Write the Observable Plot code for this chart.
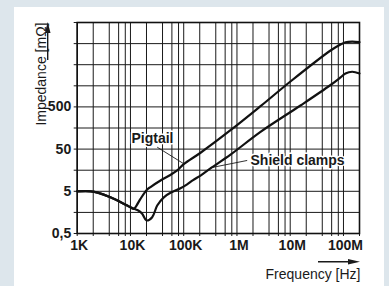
<!DOCTYPE html>
<html><head><meta charset="utf-8">
<script src="https://cdn.jsdelivr.net/npm/d3@7"></script>
<script src="https://cdn.jsdelivr.net/npm/@observablehq/plot@0.6"></script>
<style>
html,body{margin:0;padding:0;background:#dde6ec;}
#wrap{position:relative;width:389px;height:286px;overflow:hidden;}
#panel{position:absolute;left:14px;top:7px;width:370px;height:279px;background:#fff;}
#chart{position:absolute;left:0;top:0;}
svg{display:block}
</style></head><body>
<div id="wrap"><div id="panel"></div><div id="chart"></div></div>
<script>
// Pigtail curve (frequency in Hz, impedance in mΩ)
const pigtailFreq = [1000, 1800, 2500, 4200, 8700, 11600, 13000, 15400, 20600, 23800, 36700, 55000, 75500, 100000, 207000, 757000, 2.77e6, 10.1e6, 57.2e6, 88e6, 109e6, 146e6, 200e6];
const pigtailZ    = [5.0, 5.0, 4.6, 3.6, 2.3, 1.92, 2.3, 3.3, 5.5, 6.3, 9.0, 12, 15.6, 22, 41, 140, 520, 2000, 10850, 15000, 17000, 17700, 17100];
// Shield clamps curve
const shieldFreq = [1000, 1800, 2500, 4200, 8700, 11600, 14000, 16600, 20000, 25600, 31800, 42300, 56500, 87000, 116000, 150000, 207000, 318000, 757000, 2.77e6, 15.6e6, 55.5e6, 88e6, 109e6, 146e6, 200e6];
const shieldZ    = [5.0, 5.0, 4.6, 3.6, 2.3, 1.92, 1.75, 1.47, 1.02, 1.22, 2.3, 3.6, 4.6, 5.9, 7.3, 9.2, 11.8, 17.5, 37, 128, 540, 1607, 2500, 3100, 3400, 3100];

// Grid and tick values
const xGrid = [1e3, 2e3, 4e3, 6e3, 8e3, 1e4, 2e4, 4e4, 6e4, 8e4, 1e5, 2e5, 4e5, 6e5, 8e5, 1e6, 2e6, 4e6, 6e6, 8e6, 1e7, 2e7, 4e7, 6e7, 8e7, 1e8, 2e8];
const yGrid = [0.5, 1.58, 5, 15.8, 50, 158, 500, 1580, 5000, 15800, 50000];
const xTickValues = [1e3, 1e4, 1e5, 1e6, 1e7, 1e8];
const xTickLabels = ["1K", "10K", "100K", "1M", "10M", "100M"];
const yTickValues = [0.5, 5, 50, 500];
const yTickLabels = ["0,5", "5", "50", "500"];

// Callouts
const calloutNames = ["Pigtail", "Shield clamps"];
const calloutF = [25900, 1.795e6];
const calloutZ = [90.6, 26.1];
const leaderF1 = [31800, 1.556e6];
const leaderZ1 = [55.5, 26.9];
const leaderF2 = [100000, 318000];
const leaderZ2 = [22.5, 18];

const font = "'Liberation Sans', Arial, Helvetica, sans-serif";
const ink = "#1a1a1a";

const chart = Plot.plot({
  width: 389,
  height: 286,
  marginLeft: 76.7,
  marginRight: 30,
  marginTop: 22,
  marginBottom: 53,
  style: {background: "transparent", fontFamily: font, fontSize: "14px", color: ink, overflow: "visible"},
  x: {type: "log", domain: [1e3, 2e8], axis: null},
  y: {type: "log", domain: [0.5, 50000], axis: null},
  marks: [
    Plot.ruleX(xGrid, {x: d => d, stroke: ink, strokeWidth: 1, insetBottom: -3}),
    Plot.ruleY(yGrid, {y: d => d, stroke: ink, strokeWidth: 1, insetLeft: -3}),
    Plot.frame({stroke: "#111", strokeWidth: 1.6}),
    Plot.text(xTickValues, {x: d => d, frameAnchor: "bottom", text: (d, i) => xTickLabels[i], lineAnchor: "bottom", dy: 16, dx: 2, fontWeight: "bold", fontSize: 14, fill: ink}),
    Plot.text(yTickValues, {y: d => d, frameAnchor: "left", text: (d, i) => yTickLabels[i], textAnchor: "end", dx: -6, fontWeight: "bold", fontSize: 14, fill: ink}),
    Plot.link(leaderF1, {x1: d => d, y1: (d, i) => leaderZ1[i], x2: (d, i) => leaderF2[i], y2: (d, i) => leaderZ2[i], stroke: ink, strokeWidth: 0.9}),
    Plot.line(pigtailFreq, {x: d => d, y: (d, i) => pigtailZ[i], curve: "catmull-rom", stroke: "#111", strokeWidth: 2.2}),
    Plot.line(shieldFreq, {x: d => d, y: (d, i) => shieldZ[i], curve: "catmull-rom", stroke: "#111", strokeWidth: 2.2}),
    Plot.text([calloutNames[0]], {x: () => calloutF[0], y: () => calloutZ[0], text: d => d, textAnchor: "middle", fontWeight: "bold", fontSize: 14, fill: ink, stroke: "white", strokeWidth: 3}),
    Plot.text([calloutNames[1]], {x: () => calloutF[1], y: () => calloutZ[1], text: d => d, textAnchor: "start", fontWeight: "bold", fontSize: 14, fill: ink, stroke: "white", strokeWidth: 3}),
    Plot.text(["Frequency [Hz]"], {frameAnchor: "bottom-right", text: d => d, textAnchor: "end", lineAnchor: "bottom", dy: 45, dx: 1, fontSize: 14, fill: ink}),
    Plot.text(["Impedance [mΩ]"], {frameAnchor: "top-left", text: d => d, rotate: -90, textAnchor: "end", dx: -41.5, fontSize: 14, fill: ink})
  ]
});

// Axis direction arrows
const svg = d3.select(chart);
const ax = 76.7 - 29, ay = 22;
svg.append("line").attr("x1", ax).attr("x2", ax).attr("y1", ay + 38).attr("y2", ay + 8).attr("stroke", ink).attr("stroke-width", 1.4);
svg.append("path").attr("d", `M${ax},${ay}L${ax - 2.8},${ay + 11}L${ax + 2.8},${ay + 11}Z`).attr("fill", ink);
const bx = 360, by = 261.7;
svg.append("line").attr("x1", bx - 42).attr("x2", bx - 8).attr("y1", by).attr("y2", by).attr("stroke", ink).attr("stroke-width", 1.4);
svg.append("path").attr("d", `M${bx},${by}L${bx - 12},${by - 2.8}L${bx - 12},${by + 2.8}Z`).attr("fill", ink);

document.getElementById("chart").appendChild(chart);
</script>
</body></html>
